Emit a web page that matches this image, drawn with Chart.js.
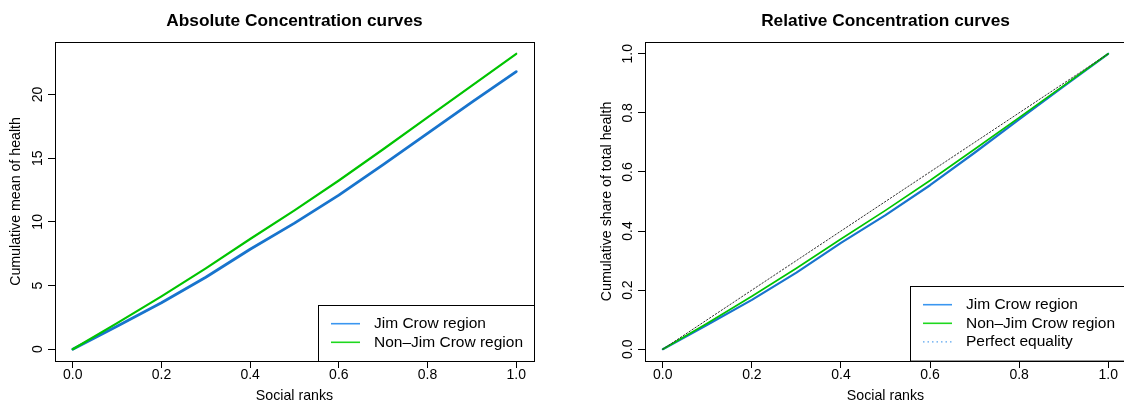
<!DOCTYPE html>
<html>
<head>
<meta charset="utf-8">
<script src="https://cdn.jsdelivr.net/npm/chart.js@4.4.0/dist/chart.umd.min.js"></script>
<style>
  html, body { margin: 0; padding: 0; background: #fff; overflow: hidden; }
  #wrap { position: relative; width: 1124px; height: 405px; }
  .panel { position: absolute; top: 0; width: 562px; height: 405px; overflow: hidden; }
  #left { left: 0; }
  #right { left: 562px; }
  canvas { display: block; }
</style>
</head>
<body>
<div id="wrap">
  <div class="panel" id="left"><canvas id="absChart" width="562" height="405"></canvas></div>
  <div class="panel" id="right"><canvas id="relChart" width="590" height="405"></canvas></div>
</div>
<script>
// social ranks (x) and the curves
const ranks = [0, 0.1, 0.2, 0.3, 0.4, 0.5, 0.6, 0.7, 0.8, 0.9, 1.0];
const absJimCrow    = [0, 1.8, 3.65, 5.65, 7.85, 9.9, 12.1, 14.5, 16.95, 19.4, 21.8];
const absNonJimCrow = [0, 2.05, 4.15, 6.35, 8.65, 10.9, 13.25, 15.7, 18.2, 20.7, 23.2];
const relJimCrow    = [0, 0.083, 0.167, 0.259, 0.360, 0.454, 0.555, 0.665, 0.778, 0.890, 1.0];
const relNonJimCrow = [0, 0.088, 0.179, 0.274, 0.373, 0.470, 0.571, 0.677, 0.784, 0.892, 1.0];
const equalityRanks = [0, 1];
const equalityShare = [0, 1];

const seriesNames = ["Jim Crow region", "Non\u2013Jim Crow region", "Perfect equality"];

// axis ticks
const xTickValues = [0, 0.2, 0.4, 0.6, 0.8, 1.0];
const xTickLabels = ["0.0", "0.2", "0.4", "0.6", "0.8", "1.0"];
const absTickValues = [0, 5, 10, 15, 20];
const absTickLabels = ["0", "5", "10", "15", "20"];
const relTickValues = [0, 0.2, 0.4, 0.6, 0.8, 1.0];
const relTickLabels = ["0.0", "0.2", "0.4", "0.6", "0.8", "1.0"];

const FONT = '"Liberation Sans", Arial, Helvetica, sans-serif';
const BLUE = "#1874CD";
const GREEN = "#00C400";

const toPoints = (xs, ys) => xs.map((x, i) => ({ x: x, y: ys[i] }));

// box round the plot region, like R's box()
const frameBox = {
  id: "frameBox",
  afterDraw(chart) {
    const { ctx, chartArea: a } = chart;
    ctx.save();
    ctx.strokeStyle = "#000";
    ctx.lineWidth = 1;
    ctx.strokeRect(Math.round(a.left) + 0.5, Math.round(a.top) + 0.5,
                   Math.round(a.right - a.left), Math.round(a.bottom - a.top));
    ctx.restore();
  }
};

// legend in a bordered box at the bottom right of the plot
const boxLegend = {
  id: "boxLegend",
  afterDraw(chart, args, opts) {
    const { ctx, chartArea: a } = chart;
    const items = opts.items || [];
    const rowH = 18.6, padY = 18.7, w = 216;
    const h = padY * 2 + rowH * (items.length - 1);
    const x0 = Math.round(a.right - w), y0 = Math.round(a.bottom - h);
    ctx.save();
    ctx.fillStyle = "#fff";
    ctx.fillRect(x0, y0, w, h);
    ctx.strokeStyle = "#000";
    ctx.lineWidth = 1;
    ctx.strokeRect(x0 + 0.5, y0 + 0.5, w, h);
    ctx.font = "15.5px " + FONT;
    ctx.textBaseline = "middle";
    items.forEach((it, i) => {
      const y = y0 + padY + i * rowH;
      ctx.beginPath();
      ctx.strokeStyle = it.color;
      ctx.lineWidth = it.width;
      ctx.setLineDash(it.dash || []);
      ctx.moveTo(x0 + 13, y);
      ctx.lineTo(x0 + 42, y);
      ctx.stroke();
      ctx.setLineDash([]);
      ctx.fillStyle = "#000";
      ctx.fillText(it.label, x0 + 56, y);
    });
    ctx.restore();
  }
};

function makeChart(canvasId, cfg) {
  const ctx = document.getElementById(canvasId).getContext("2d");
  return new Chart(ctx, {
    type: "line",
    data: { datasets: cfg.datasets },
    options: {
      responsive: false,
      animation: false,
      devicePixelRatio: 1,
      layout: { padding: { left: 0, right: cfg.padRight, top: 0, bottom: 0 } },
      elements: { point: { radius: 0 }, line: { tension: 0, borderCapStyle: "round", borderJoinStyle: "round" } },
      plugins: {
        legend: { display: false },
        tooltip: { enabled: false },
        title: {
          display: true,
          fullSize: false,
          text: cfg.title,
          color: "#000",
          font: { family: FONT, size: 17.3, weight: "bold", lineHeight: 1.2 },
          padding: { top: 11.2, bottom: 10 }
        },
        boxLegend: { items: cfg.legendItems }
      },
      scales: {
        x: {
          type: "linear",
          min: -0.04,
          max: 1.04,
          afterBuildTicks: s => { s.ticks = xTickValues.map(v => ({ value: v })); },
          afterFit: s => { s.height = 44; },
          border: { display: false },
          grid: { drawOnChartArea: false, drawTicks: true, tickLength: 7, tickColor: "#000", tickWidth: 1 },
          ticks: {
            color: "#000",
            font: { family: FONT, size: 14 },
            padding: -1,
            maxRotation: 0,
            autoSkip: false,
            callback: (v, i) => xTickLabels[i]
          },
          title: {
            display: true,
            text: "Social ranks",
            color: "#000",
            font: { family: FONT, size: 14.2, lineHeight: 1.2 },
            padding: { top: 0, bottom: 0.5 }
          }
        },
        y: {
          type: "linear",
          min: cfg.yMin,
          max: cfg.yMax,
          afterBuildTicks: s => { s.ticks = cfg.yTicks.map(v => ({ value: v })); },
          afterFit: s => { s.width = cfg.yWidth; },
          border: { display: false },
          grid: { drawOnChartArea: false, drawTicks: true, tickLength: 7, tickColor: "#000", tickWidth: 1 },
          ticks: {
            color: "#000",
            font: { family: FONT, size: 14 },
            minRotation: 90,
            maxRotation: 90,
            crossAlign: "center",
            padding: cfg.yTickPad,
            autoSkip: false,
            callback: (v, i) => cfg.yLabels[i]
          },
          title: {
            display: true,
            text: cfg.yTitle,
            color: "#000",
            font: { family: FONT, size: 14.2, lineHeight: 1.2 },
            padding: { top: cfg.yTitlePad, bottom: 0 }
          }
        }
      }
    },
    plugins: [frameBox, boxLegend]
  });
}

// Absolute chart
makeChart("absChart", {
  title: "Absolute Concentration curves",
  yTitle: "Cumulative mean of health",
  yMin: -0.928, yMax: 24.128,
  yTicks: absTickValues, yLabels: absTickLabels,
  yWidth: 55, yTickPad: 1.7, yTitlePad: 7.7,
  padRight: 28,
  datasets: [
    { label: seriesNames[1], data: toPoints(ranks, absNonJimCrow), borderColor: GREEN, borderWidth: 2.2, order: 1 },
    { label: seriesNames[0], data: toPoints(ranks, absJimCrow), borderColor: BLUE, borderWidth: 2.8, order: 2 }
  ],
  legendItems: [
    { label: seriesNames[0], color: "#3a96f0", width: 1.6 },
    { label: seriesNames[1], color: "#1ed81e", width: 1.6 }
  ]
});

// Relative chart
makeChart("relChart", {
  title: "Relative Concentration curves",
  yTitle: "Cumulative share of total health",
  yMin: -0.04, yMax: 1.04,
  yTicks: relTickValues, yLabels: relTickLabels,
  yWidth: 83, yTickPad: 0.5, yTitlePad: 36.5,
  padRight: 26,
  datasets: [
    { label: seriesNames[2], data: toPoints(equalityRanks, equalityShare), borderColor: "#333", borderWidth: 1, borderDash: [1.5, 2], order: 0 },
    { label: seriesNames[1], data: toPoints(ranks, relNonJimCrow), borderColor: GREEN, borderWidth: 1.7, order: 1 },
    { label: seriesNames[0], data: toPoints(ranks, relJimCrow), borderColor: BLUE, borderWidth: 2.2, order: 2 }
  ],
  legendItems: [
    { label: seriesNames[0], color: "#3a96f0", width: 1.6 },
    { label: seriesNames[1], color: "#1ed81e", width: 1.6 },
    { label: seriesNames[2], color: "#5aa5f0", width: 1.3, dash: [1.5, 3] }
  ]
});
</script>
</body>
</html>
